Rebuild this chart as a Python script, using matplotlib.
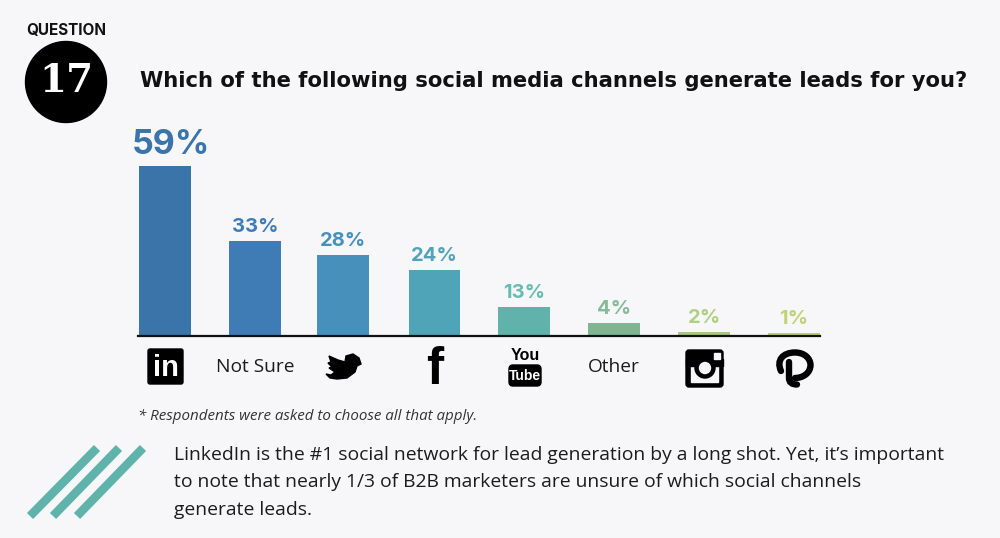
import matplotlib
matplotlib.use('Agg')
import matplotlib.patches as mpatches
import matplotlib.pyplot as plt
from matplotlib.path import Path

channels = ['LinkedIn', 'Not Sure', 'Twitter', 'Facebook', 'YouTube', 'Other', 'Instagram', 'Pinterest']
# bar heights as drawn in the picture, they are not quite the printed numbers
bar_heights = [59, 33, 28, 23, 10, 4.5, 1.4, 1.1]
value_labels = ['59%', '33%', '28%', '24%', '13%', '4%', '2%', '1%']
bar_colors = ['#3a74a9', '#3f7cb6', '#4790bb', '#50a4b7', '#61b2ab', '#80b592', '#a8c87e', '#bdd06e']
label_colors = ['#3a74ab', '#3f7cb6', '#4790bb', '#50a4b7', '#68bcb2', '#85bb96', '#aed07f', '#bdd474']
text_labels = {'Not Sure': 'Not Sure', 'Other': 'Other'}

BG = '#f7f7fa'
TEAL = '#5fb3ab'
BODY = '#1c1c1c'

fig = plt.figure(figsize=(10, 5.38), dpi=100, facecolor=BG)

# full figure axes in pixels for everything around the chart
px = fig.add_axes([0, 0, 1, 1])
px.set_xlim(0, 1000)
px.set_ylim(538, 0)
px.axis('off')

# chart axes, baseline at y=336px
ax = fig.add_axes([0.138, (538 - 336) / 538, 0.682, 200 / 538])
ax.patch.set_alpha(0)
xpos = [0, 1, 1.98, 3, 4, 5, 6, 7]
ax.bar(xpos, bar_heights, width=0.578, color=bar_colors)
ax.set_xlim(-0.3, 7.29)
ax.set_ylim(0, 200 / 2.88)
for x, v, lab, c, in zip(xpos, bar_heights, value_labels, label_colors):
    # the big label sits a little right of its bar in the original
    size, dx = (24.5, 4.5) if lab == '59%' else (14.5, 0)
    ax.annotate(lab, (x, v), xytext=(dx, 3.5), textcoords='offset points', ha='center', va='bottom',
                fontsize=size, fontweight='bold', color=c, family='Inter')
for s in ['top', 'left', 'right']:
    ax.spines[s].set_visible(False)
ax.spines['bottom'].set_linewidth(1.6)
ax.spines['bottom'].set_color('#111111')
ax.set_yticks([])
ax.set_xticks([])
for x, name in zip(xpos, channels):
    if name in text_labels:
        ax.annotate(text_labels[name], (x, 0), xytext=(0, -22), textcoords='offset points', ha='center',
                    va='center', fontsize=13.8, color=BODY, family='Open Sans')

# header
px.text(66, 31, 'QUESTION', ha='center', va='center', fontsize=11, fontweight='bold', color='#111111', family='Inter')
px.add_patch(mpatches.Circle((66, 82), 40.5, color='black'))
px.text(66, 81, '17', ha='center', va='center', fontsize=28, fontweight='bold', color='white',
        family='DejaVu Serif')
px.text(140, 81, 'Which of the following social media channels generate leads for you?', ha='left', va='center',
        fontsize=15.2, fontweight='bold', color='#111111', family='DejaVu Sans')

# linkedin
px.add_patch(mpatches.FancyBboxPatch((148, 349), 35, 35, boxstyle='round,pad=0,rounding_size=2', color='black'))
px.text(165.5, 368, 'in', ha='center', va='center', fontsize=21, fontweight='bold', color='white', family='Liberation Sans')

# twitter
bird = [(326, 374), (331, 375), (335, 372), (329, 368), (332, 367), (328, 363), (331, 362), (329, 356), (338, 360),
        (345, 362), (346, 356), (353, 354), (359, 358), (361, 364), (357, 366), (355, 372), (347, 378), (337, 379),
        (330, 378)]
px.add_patch(mpatches.Polygon(bird, closed=True, color='black'))

# facebook
px.text(435, 371, 'f', ha='center', va='center', fontsize=37, fontweight='bold', color='black', family='Liberation Sans')

# youtube
px.text(525, 356, 'You', ha='center', va='center', fontsize=11.5, fontweight='bold', color='black',
        family='Liberation Sans')
px.add_patch(mpatches.FancyBboxPatch((509, 365), 32, 21, boxstyle='round,pad=0,rounding_size=4', color='black'))
px.text(525, 375.5, 'Tube', ha='center', va='center', fontsize=10, fontweight='bold', color='white',
        family='Liberation Sans')

# instagram
px.add_patch(mpatches.FancyBboxPatch((686, 350), 37, 37, boxstyle='round,pad=0,rounding_size=3', color='black'))
px.add_patch(mpatches.Rectangle((691, 365), 27, 17, color=BG))
px.add_patch(mpatches.Rectangle((686, 359), 37, 6.5, color='black'))
px.add_patch(mpatches.Circle((705, 368), 10, color='black'))
px.add_patch(mpatches.Circle((705, 368), 5.5, color=BG))
px.add_patch(mpatches.Rectangle((714, 353), 6, 6, color=BG))

# pinterest, one thick stroke for the bowl and one for the stem
bowl = Path([(781, 371), (776, 360), (783, 352.5), (795, 352.5), (805, 352.5), (810.5, 359), (810.5, 365),
             (810.5, 373), (803, 378), (795, 378)],
            [Path.MOVETO] + [Path.CURVE4] * 9)
stem = Path([(789, 362), (789, 378), (789, 384.5), (797, 384.5)],
            [Path.MOVETO, Path.LINETO, Path.CURVE3, Path.CURVE3])
for p in [bowl, stem]:
    px.add_patch(mpatches.PathPatch(p, fc='none', ec='black', lw=4.6, capstyle='round'))

# footnote
px.text(138, 417, '* Respondents were asked to choose all that apply.', ha='left', va='center', fontsize=10.9,
        style='italic', color='#333333', family='Open Sans')

# diagonal stripes
for x0, x1 in [(30, 97), (53, 119), (77, 143)]:
    px.plot([x0, x1], [516, 448], color=TEAL, lw=6.2, solid_capstyle='butt')

# comment text
comment = ["LinkedIn is the #1 social network for lead generation by a long shot. Yet, it\u2019s important",
           "to note that nearly 1/3 of B2B marketers are unsure of which social channels",
           "generate leads."]
for y, line in zip([455, 482, 510], comment):
    px.text(174, y, line, ha='left', va='center', fontsize=13.9, color=BODY, family='Open Sans')

fig.savefig('out.png', dpi=100, facecolor=BG)
